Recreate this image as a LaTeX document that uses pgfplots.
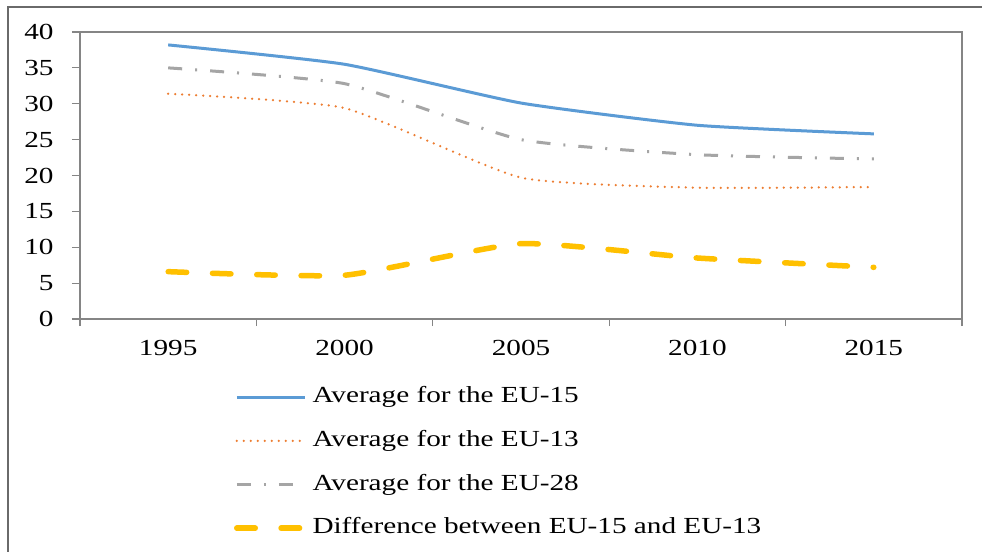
\documentclass[border=0pt]{standalone}
\usepackage{fontspec}
\setmainfont{Liberation Serif}[FakeStretch=1.27]
\usepackage{pgfplots}
\pgfplotsset{compat=1.18}
\definecolor{cblue}{HTML}{5B9BD5}
\definecolor{corange}{HTML}{ED7D31}
\definecolor{cgray}{HTML}{A5A5A5}
\definecolor{cyellow}{HTML}{FFC000}
\definecolor{framegray}{HTML}{6A6A6A}
\definecolor{axgray}{HTML}{858585}
\begin{document}
\begin{tikzpicture}
\useasboundingbox (0,0) rectangle (982bp,552bp);
\clip (0,0) rectangle (982bp,552bp);
\fill[white] (0,0) rectangle (982bp,552bp);
\draw[framegray, line width=2bp] (8bp,-5bp) -- (8bp,545bp) -- (990bp,545bp);
\begin{axis}[
  at={(80bp,233bp)}, anchor=south west,
  scale only axis, width=882bp, height=287bp,
  xmin=-0.5, xmax=4.5, ymin=0, ymax=40,
  xtick={0,1,2,3,4},
  xticklabels={1995,2000,2005,2010,2015},
  minor xtick={-0.5,0.5,1.5,2.5,3.5,4.5},
  major x tick style={draw=none},
  minor x tick style={axgray, line width=1.2bp},
  minor tick length=7bp,
  ytick={0,5,...,40},
  major tick length=8bp,
  y tick style={axgray, line width=1.2bp},
  tick align=outside,
  xtick pos=bottom, ytick pos=left,
  axis line style={axgray, line width=1.5bp},
  /pgf/number format/assume math mode=true,
  tick label style={font=\fontsize{23bp}{27bp}\selectfont},
  yticklabel style={xshift=-15bp},
  xticklabel style={yshift=-10bp},
  legend style={at={(0.171,-0.228)}, anchor=north west, draw=none, fill=none,
    font=\fontsize{23bp}{27bp}\selectfont,
    nodes={inner sep=0pt, text height=16bp, text depth=5bp},
    row sep=22.7bp, column sep=5bp},
  legend cell align=left,
  legend image code/.code={\draw[#1] (0bp,0bp) -- (68bp,0bp);},
]
\addplot[cblue, line width=3bp, smooth, tension=0.3] coordinates {(0,38.2) (1,35.5) (2,30.1) (3,27.0) (4,25.8)};
\addlegendentry{Average for the EU-15}
\addplot[corange, line width=2.5bp, line cap=round, dash pattern=on 0bp off 7bp, smooth, tension=0.3] coordinates {(0,31.4) (1,29.4) (2,19.7) (3,18.3) (4,18.4)};
\addlegendentry{Average for the EU-13}
\addplot[cgray, line width=3bp, dash pattern=on 14bp off 13bp on 2bp off 13bp, smooth, tension=0.3] coordinates {(0,35.0) (1,32.8) (2,25.0) (3,22.9) (4,22.3)};
\addlegendentry{Average for the EU-28}
\addplot[cyellow, line width=5.5bp, line cap=round, dash pattern=on 18.5bp off 25.8bp, smooth, tension=0.3] coordinates {(0,6.6) (1,6.1) (2,10.5) (3,8.5) (4,7.2)};
\addlegendentry{Difference between EU-15 and EU-13}
\end{axis}
\end{tikzpicture}
\end{document}
